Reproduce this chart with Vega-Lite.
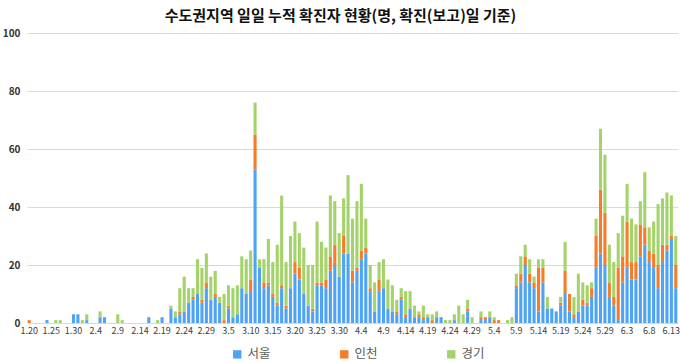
{
  "$schema": "https://vega.github.io/schema/vega-lite/v6.json",
  "width": 651,
  "height": 290,
  "autosize": "none",
  "padding": {"left": 27, "top": 33, "right": 2, "bottom": 40},
  "background": "white",
  "title": {
    "text": "수도권지역 일일 누적 확진자 현황(명, 확진(보고)일 기준)",
    "font": "Noto Sans CJK KR",
    "fontSize": 15,
    "fontWeight": "bold",
    "color": "#111111",
    "anchor": "middle",
    "dx": -12,
    "offset": 4
  },
  "datasets": {
    "ord": [
      {"지역": "서울", "k": 0},
      {"지역": "인천", "k": 1},
      {"지역": "경기", "k": 2}
    ]
  },
  "data": {
    "values": [
      {"d": "1.20", "서울": 0, "인천": 1, "경기": 0},
      {"d": "1.21", "서울": 0, "인천": 0, "경기": 0},
      {"d": "1.22", "서울": 0, "인천": 0, "경기": 0},
      {"d": "1.23", "서울": 0, "인천": 0, "경기": 0},
      {"d": "1.24", "서울": 1, "인천": 0, "경기": 0},
      {"d": "1.25", "서울": 0, "인천": 0, "경기": 0},
      {"d": "1.26", "서울": 0, "인천": 0, "경기": 1},
      {"d": "1.27", "서울": 0, "인천": 0, "경기": 1},
      {"d": "1.28", "서울": 0, "인천": 0, "경기": 0},
      {"d": "1.29", "서울": 0, "인천": 0, "경기": 0},
      {"d": "1.30", "서울": 3, "인천": 0, "경기": 0},
      {"d": "1.31", "서울": 3, "인천": 0, "경기": 0},
      {"d": "2.1", "서울": 0, "인천": 0, "경기": 1},
      {"d": "2.2", "서울": 1, "인천": 0, "경기": 2},
      {"d": "2.3", "서울": 0, "인천": 0, "경기": 0},
      {"d": "2.4", "서울": 0, "인천": 0, "경기": 0},
      {"d": "2.5", "서울": 2, "인천": 0, "경기": 2},
      {"d": "2.6", "서울": 2, "인천": 0, "경기": 0},
      {"d": "2.7", "서울": 0, "인천": 0, "경기": 0},
      {"d": "2.8", "서울": 0, "인천": 0, "경기": 0},
      {"d": "2.9", "서울": 0, "인천": 0, "경기": 3},
      {"d": "2.10", "서울": 0, "인천": 0, "경기": 1},
      {"d": "2.11", "서울": 0, "인천": 0, "경기": 0},
      {"d": "2.12", "서울": 0, "인천": 0, "경기": 0},
      {"d": "2.13", "서울": 0, "인천": 0, "경기": 0},
      {"d": "2.14", "서울": 0, "인천": 0, "경기": 0},
      {"d": "2.15", "서울": 0, "인천": 0, "경기": 0},
      {"d": "2.16", "서울": 2, "인천": 0, "경기": 0},
      {"d": "2.17", "서울": 0, "인천": 0, "경기": 0},
      {"d": "2.18", "서울": 0, "인천": 0, "경기": 1},
      {"d": "2.19", "서울": 2, "인천": 0, "경기": 0},
      {"d": "2.20", "서울": 0, "인천": 0, "경기": 0},
      {"d": "2.21", "서울": 5, "인천": 0, "경기": 1},
      {"d": "2.22", "서울": 2, "인천": 0, "경기": 2},
      {"d": "2.23", "서울": 3, "인천": 1, "경기": 8},
      {"d": "2.24", "서울": 4, "인천": 0, "경기": 12},
      {"d": "2.25", "서울": 7, "인천": 0, "경기": 5},
      {"d": "2.26", "서울": 8, "인천": 1, "경기": 3},
      {"d": "2.27", "서울": 10, "인천": 0, "경기": 12},
      {"d": "2.28", "서울": 7, "인천": 1, "경기": 11},
      {"d": "2.29", "서울": 12, "인천": 2, "경기": 10},
      {"d": "3.1", "서울": 8, "인천": 0, "경기": 8},
      {"d": "3.2", "서울": 9, "인천": 1, "경기": 8},
      {"d": "3.3", "서울": 7, "인천": 0, "경기": 2},
      {"d": "3.4", "서울": 0, "인천": 1, "경기": 9},
      {"d": "3.5", "서울": 5, "인천": 1, "경기": 7},
      {"d": "3.6", "서울": 2, "인천": 0, "경기": 10},
      {"d": "3.7", "서울": 3, "인천": 0, "경기": 10},
      {"d": "3.8", "서울": 12, "인천": 0, "경기": 11},
      {"d": "3.9", "서울": 10, "인천": 0, "경기": 12},
      {"d": "3.10", "서울": 11, "인천": 4, "경기": 10},
      {"d": "3.11", "서울": 53, "인천": 12, "경기": 11},
      {"d": "3.12", "서울": 19, "인천": 0, "경기": 3},
      {"d": "3.13", "서울": 12, "인천": 2, "경기": 8},
      {"d": "3.14", "서울": 13, "인천": 1, "경기": 15},
      {"d": "3.15", "서울": 9, "인천": 1, "경기": 11},
      {"d": "3.16", "서울": 6, "인천": 1, "경기": 20},
      {"d": "3.17", "서울": 12, "인천": 1, "경기": 31},
      {"d": "3.18", "서울": 5, "인천": 1, "경기": 15},
      {"d": "3.19", "서울": 12, "인천": 0, "경기": 18},
      {"d": "3.20", "서울": 17, "인천": 4, "경기": 14},
      {"d": "3.21", "서울": 15, "인천": 4, "경기": 12},
      {"d": "3.22", "서울": 10, "인천": 0, "경기": 16},
      {"d": "3.23", "서울": 6, "인천": 0, "경기": 14},
      {"d": "3.24", "서울": 4, "인천": 1, "경기": 15},
      {"d": "3.25", "서울": 13, "인천": 1, "경기": 21},
      {"d": "3.26", "서울": 13, "인천": 1, "경기": 14},
      {"d": "3.27", "서울": 12, "인천": 3, "경기": 11},
      {"d": "3.28", "서울": 18, "인천": 5, "경기": 21},
      {"d": "3.29", "서울": 20, "인천": 7, "경기": 15},
      {"d": "3.30", "서울": 16, "인천": 0, "경기": 15},
      {"d": "3.31", "서울": 24, "인천": 6, "경기": 13},
      {"d": "4.1", "서울": 24, "인천": 0, "경기": 27},
      {"d": "4.2", "서울": 14, "인천": 4, "경기": 18},
      {"d": "4.3", "서울": 18, "인천": 1, "경기": 23},
      {"d": "4.4", "서울": 22, "인천": 3, "경기": 23},
      {"d": "4.5", "서울": 24, "인천": 2, "경기": 10},
      {"d": "4.6", "서울": 11, "인천": 1, "경기": 8},
      {"d": "4.7", "서울": 4, "인천": 0, "경기": 10},
      {"d": "4.8", "서울": 11, "인천": 4, "경기": 6},
      {"d": "4.9", "서울": 12, "인천": 0, "경기": 10},
      {"d": "4.10", "서울": 5, "인천": 0, "경기": 10},
      {"d": "4.11", "서울": 4, "인천": 0, "경기": 9},
      {"d": "4.12", "서울": 3, "인천": 1, "경기": 4},
      {"d": "4.13", "서울": 8, "인천": 1, "경기": 3},
      {"d": "4.14", "서울": 2, "인천": 1, "경기": 8},
      {"d": "4.15", "서울": 5, "인천": 0, "경기": 6},
      {"d": "4.16", "서울": 2, "인천": 0, "경기": 4},
      {"d": "4.17", "서울": 2, "인천": 1, "경기": 1},
      {"d": "4.18", "서울": 1, "인천": 1, "경기": 4},
      {"d": "4.19", "서울": 2, "인천": 0, "경기": 1},
      {"d": "4.20", "서울": 0, "인천": 1, "경기": 2},
      {"d": "4.21", "서울": 2, "인천": 0, "경기": 2},
      {"d": "4.22", "서울": 2, "인천": 0, "경기": 0},
      {"d": "4.23", "서울": 0, "인천": 0, "경기": 1},
      {"d": "4.24", "서울": 0, "인천": 0, "경기": 1},
      {"d": "4.25", "서울": 1, "인천": 0, "경기": 2},
      {"d": "4.26", "서울": 0, "인천": 0, "경기": 6},
      {"d": "4.27", "서울": 0, "인천": 0, "경기": 3},
      {"d": "4.28", "서울": 4, "인천": 1, "경기": 3},
      {"d": "4.29", "서울": 0, "인천": 0, "경기": 2},
      {"d": "4.30", "서울": 0, "인천": 0, "경기": 0},
      {"d": "5.1", "서울": 1, "인천": 1, "경기": 2},
      {"d": "5.2", "서울": 1, "인천": 1, "경기": 0},
      {"d": "5.3", "서울": 2, "인천": 0, "경기": 2},
      {"d": "5.4", "서울": 0, "인천": 1, "경기": 1},
      {"d": "5.5", "서울": 0, "인천": 1, "경기": 0},
      {"d": "5.6", "서울": 0, "인천": 0, "경기": 0},
      {"d": "5.7", "서울": 0, "인천": 0, "경기": 1},
      {"d": "5.8", "서울": 0, "인천": 0, "경기": 2},
      {"d": "5.9", "서울": 12, "인천": 1, "경기": 4},
      {"d": "5.10", "서울": 14, "인천": 3, "경기": 6},
      {"d": "5.11", "서울": 20, "인천": 3, "경기": 4},
      {"d": "5.12", "서울": 14, "인천": 3, "경기": 5},
      {"d": "5.13", "서울": 12, "인천": 2, "경기": 2},
      {"d": "5.14", "서울": 4, "인천": 15, "경기": 3},
      {"d": "5.15", "서울": 14, "인천": 5, "경기": 3},
      {"d": "5.16", "서울": 5, "인천": 0, "경기": 4},
      {"d": "5.17", "서울": 5, "인천": 0, "경기": 0},
      {"d": "5.18", "서울": 4, "인천": 0, "경기": 0},
      {"d": "5.19", "서울": 6, "인천": 1, "경기": 2},
      {"d": "5.20", "서울": 10, "인천": 8, "경기": 10},
      {"d": "5.21", "서울": 4, "인천": 6, "경기": 0},
      {"d": "5.22", "서울": 2, "인천": 1, "경기": 6},
      {"d": "5.23", "서울": 4, "인천": 0, "경기": 13},
      {"d": "5.24", "서울": 6, "인천": 2, "경기": 6},
      {"d": "5.25", "서울": 6, "인천": 1, "경기": 6},
      {"d": "5.26", "서울": 9, "인천": 3, "경기": 2},
      {"d": "5.27", "서울": 19, "인천": 11, "경기": 6},
      {"d": "5.28", "서울": 24, "인천": 22, "경기": 21},
      {"d": "5.29", "서울": 20, "인천": 18, "경기": 20},
      {"d": "5.30", "서울": 9, "인천": 5, "경기": 13},
      {"d": "5.31", "서울": 6, "인천": 3, "경기": 12},
      {"d": "6.1", "서울": 1, "인천": 18, "경기": 12},
      {"d": "6.2", "서울": 14, "인천": 9, "경기": 14},
      {"d": "6.3", "서울": 19, "인천": 16, "경기": 13},
      {"d": "6.4", "서울": 15, "인천": 6, "경기": 15},
      {"d": "6.5", "서울": 15, "인천": 6, "경기": 13},
      {"d": "6.6", "서울": 23, "인천": 11, "경기": 8},
      {"d": "6.7", "서울": 27, "인천": 6, "경기": 19},
      {"d": "6.8", "서울": 21, "인천": 4, "경기": 8},
      {"d": "6.9", "서울": 19, "인천": 5, "경기": 11},
      {"d": "6.10", "서울": 12, "인천": 8, "경기": 21},
      {"d": "6.11", "서울": 21, "인천": 6, "경기": 16},
      {"d": "6.12", "서울": 25, "인천": 2, "경기": 18},
      {"d": "6.13", "서울": 29, "인천": 1, "경기": 14},
      {"d": "6.14", "서울": 12, "인천": 8, "경기": 10}
    ]
  },
  "transform": [
    {"fold": ["서울", "인천", "경기"], "as": ["지역", "명"]},
    {"lookup": "지역", "from": {"data": {"name": "ord"}, "key": "지역", "fields": ["k"]}}
  ],
  "mark": {"type": "bar"},
  "encoding": {
    "x": {
      "field": "d",
      "type": "ordinal",
      "sort": null,
      "scale": {"paddingInner": 0.3, "paddingOuter": 0.15},
      "axis": {
        "title": null,
        "values": ["1.20","1.25","1.30","2.4","2.9","2.14","2.19","2.24","2.29","3.5","3.10","3.15","3.20","3.25","3.30","4.4","4.9","4.14","4.19","4.24","4.29","5.4","5.9","5.14","5.19","5.24","5.29","6.3","6.8","6.13"],
        "labelAngle": 0,
        "labelOverlap": false,
        "labelFont": "Noto Sans CJK KR",
        "labelFontSize": 9,
        "labelColor": "#404040",
        "labelPadding": 3,
        "ticks": false,
        "domain": false,
        "grid": false
      }
    },
    "y": {
      "field": "명",
      "type": "quantitative",
      "stack": "zero",
      "scale": {"domain": [0, 100], "nice": false},
      "axis": {
        "title": null,
        "values": [0, 20, 40, 60, 80, 100],
        "labelFont": "Noto Sans CJK KR",
        "labelFontSize": 10,
        "labelFontWeight": "bold",
        "labelColor": "#333333",
        "labelPadding": 7,
        "ticks": false,
        "domain": false,
        "grid": true,
        "gridColor": "#d9d9d9",
        "gridWidth": 1
      }
    },
    "order": {"field": "k", "type": "quantitative", "sort": "ascending"},
    "color": {
      "field": "지역",
      "type": "nominal",
      "sort": ["서울", "인천", "경기"],
      "scale": {"domain": ["서울", "인천", "경기"], "range": ["#4ea3f5", "#f57d2a", "#a5d36b"]},
      "legend": {
        "title": null,
        "orient": "none",
        "legendX": 204,
        "legendY": 315,
        "direction": "horizontal",
        "symbolType": "square",
        "symbolSize": 70,
        "symbolStrokeWidth": 0,
        "labelFont": "Noto Sans CJK KR",
        "labelFontSize": 12.5,
        "labelColor": "#595959",
        "labelOffset": 4,
        "columnPadding": 67
      }
    }
  },
  "config": {"view": {"stroke": null}}
}
